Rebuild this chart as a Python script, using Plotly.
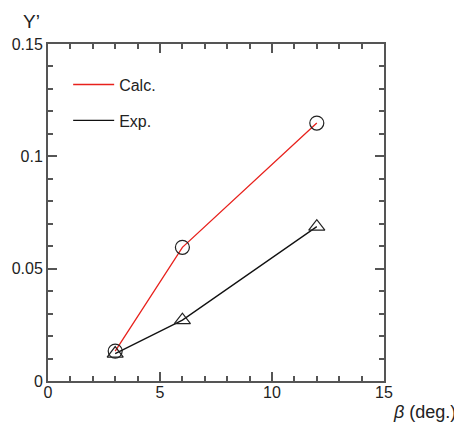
import plotly.graph_objects as go

beta = [3, 6, 12]
calc = [0.0133, 0.0595, 0.1148]
exp_ = [0.0122, 0.0271, 0.0687]
x_ticks = [0, 5, 10, 15]
y_ticks = [0, 0.05, 0.1, 0.15]
y_tick_text = ["0", "0.05", "0.1", "0.15"]

fig = go.Figure()
# data traces
fig.add_trace(go.Scatter(x=beta, y=calc, mode="lines+markers", name="Calc.",
                         line=dict(color="#e8211c", width=1.3),
                         marker=dict(symbol="circle-open", size=14, color="#222", line=dict(width=1.2)),
                         showlegend=False))
fig.add_trace(go.Scatter(x=beta, y=exp_, mode="lines+markers", name="Exp.",
                         line=dict(color="#111", width=1.3),
                         marker=dict(symbol="triangle-up-open", size=14, color="#222", line=dict(width=1.2)),
                         showlegend=False))
# legend-only line samples
fig.add_trace(go.Scatter(x=[None], y=[None], mode="lines", name="Calc.",
                         line=dict(color="#e8211c", width=1.3), legendgroup="a"))
fig.add_trace(go.Scatter(x=[None], y=[None], mode="lines", name="Exp.",
                         line=dict(color="#111", width=1.3), legendgroup="b"))

axis_common = dict(showgrid=False, zeroline=False, showline=True, linecolor="#555", linewidth=2,
                   mirror="ticks", ticks="inside", tickcolor="#555", tickwidth=1.5, automargin=False,
                   tickfont=dict(family="Liberation Sans, Arial, sans-serif", size=16, color="#222"))
fig.update_xaxes(range=[0, 15], tickvals=x_ticks, ticklen=9, ticklabelstandoff=-4,
                 minor=dict(dtick=1, ticks="inside", ticklen=5, tickcolor="#555", tickwidth=1.5),
                 **axis_common)
fig.update_yaxes(range=[0, 0.15], tickvals=y_ticks, ticktext=y_tick_text, ticklen=9,
                 minor=dict(dtick=0.01, ticks="inside", ticklen=5, tickcolor="#555", tickwidth=1.5),
                 **axis_common)

fig.update_layout(
    width=454, height=420,
    margin=dict(l=40, r=78, t=36, b=47),
    plot_bgcolor="white", paper_bgcolor="white",
    font=dict(family="Liberation Sans, Arial, sans-serif", color="#222"),
    legend=dict(x=0.06, y=0.93, xanchor="left", yanchor="top", bgcolor="rgba(0,0,0,0)",
                font=dict(size=16, color="#222"), tracegroupgap=12, traceorder="grouped",
                itemwidth=41),
    annotations=[
        dict(text="Y’", xref="paper", yref="paper", x=-0.08, y=1.03, xanchor="left", yanchor="bottom",
             showarrow=False, font=dict(size=19, color="#222")),
        dict(text="<i>β</i> (deg.)", xref="paper", yref="paper", x=1.22, y=-0.055, xanchor="right", yanchor="top",
             showarrow=False, font=dict(size=18, color="#222")),
    ],
)

fig.write_html("out.html")
